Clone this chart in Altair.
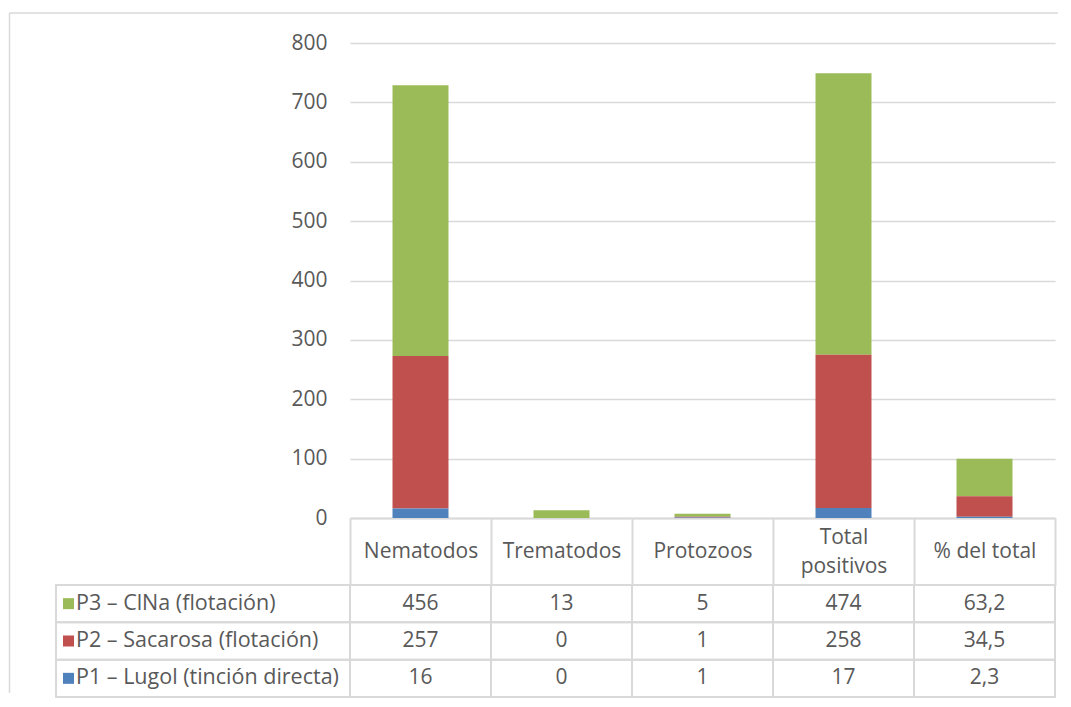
import altair as alt
import pandas as pd

categories = ["Nematodos", "Trematodos", "Protozoos", "Total positivos", "% del total"]
series = ["P3 – ClNa (flotación)", "P2 – Sacarosa (flotación)", "P1 – Lugol (tinción directa)"]
p3_clna = [456, 13, 5, 474, 63.2]
p2_sacarosa = [257, 0, 1, 258, 34.5]
p1_lugol = [16, 0, 1, 17, 2.3]
colors = ["#9BBB59", "#C0504D", "#4F81BD"]

rows = []
for s_idx, (name, vals) in enumerate(zip(series, [p3_clna, p2_sacarosa, p1_lugol])):
    for c, v in zip(categories, vals):
        lab = f"{v:.1f}".replace(".", ",") if c == "% del total" else str(int(v))
        rows.append({"categoria": c, "serie": name, "valor": v, "texto": lab,
                     "orden": 2 - s_idx})
df = pd.DataFrame(rows)

FONT = "Open Sans"
GRAY = "#d9d9d9"
TXT = "#595959"

xscale = alt.Scale(domain=categories, paddingInner=0, paddingOuter=0)
cscale = alt.Scale(domain=series, range=colors)

bars = alt.Chart(df).mark_bar(width=56).encode(
    x=alt.X("categoria:N", scale=xscale, sort=categories, title=None,
            axis=alt.Axis(labelAngle=0, tickBand="extent", tickSize=67, tickColor=GRAY,
                          tickWidth=2, domainColor=GRAY, domainWidth=2, grid=False,
                          labelFont=FONT, labelFontSize=21, labelColor=TXT,
                          labelBaseline="middle",
                          labelPadding={"condition": {"test": "datum.value == 'Total positivos'",
                                                      "value": -48},
                                        "value": -33.5},
                          labelLineHeight=29,
                          labelExpr="datum.value == 'Total positivos' ? ['Total', 'positivos'] : datum.label")),
    y=alt.Y("valor:Q", stack="zero", scale=alt.Scale(domain=[0, 800], nice=False), title=None,
            axis=alt.Axis(values=[0, 100, 200, 300, 400, 500, 600, 700, 800], grid=True,
                          gridColor=GRAY, gridWidth=1.5, domain=False, ticks=False,
                          labelPadding=23, labelFont=FONT, labelFontSize=21, labelColor=TXT)),
    color=alt.Color("serie:N", scale=cscale, legend=None),
    order=alt.Order("orden:Q", sort="ascending"),
)

frame_df = pd.DataFrame({"k": [0]})
frame_top = alt.Chart(frame_df).mark_rule(color=GRAY, strokeWidth=1.5).encode(
    x=alt.value(-340.5), x2=alt.value(708), y=alt.value(-30))
frame_left = alt.Chart(frame_df).mark_rule(color=GRAY, strokeWidth=1.5).encode(
    x=alt.value(-340.5), y=alt.value(-30), y2=alt.value(650))

top = alt.layer(frame_top, frame_left, bars).properties(width=705, height=475)

xs2 = alt.X("categoria:N", scale=xscale, sort=categories, axis=None)
ys2 = alt.Y("serie:N", scale=alt.Scale(domain=series, paddingInner=0, paddingOuter=0),
            sort=series, axis=None)

cells = alt.Chart(df).mark_rect(fillOpacity=0, stroke=GRAY, strokeWidth=2).encode(x=xs2, y=ys2)
vals = alt.Chart(df).mark_text(font=FONT, fontSize=21, color=TXT, baseline="middle").encode(
    x=xs2, y=ys2, text="texto:N")

lab_df = pd.DataFrame({"serie": series})
lab_cells = alt.Chart(lab_df).mark_rect(fillOpacity=0, stroke=GRAY, strokeWidth=2).encode(
    x=alt.value(-294), x2=alt.value(0), y=ys2)
swatch = alt.Chart(lab_df).mark_square(size=121, filled=True, opacity=1).encode(
    x=alt.value(-281.5), y=ys2, color=alt.Color("serie:N", scale=cscale, legend=None))
lab_text = alt.Chart(lab_df).mark_text(font=FONT, fontSize=21.5, color=TXT, align="left",
                                       baseline="middle").encode(
    x=alt.value(-274), y=ys2, text="serie:N")

bottom = alt.layer(cells, vals, lab_cells, swatch, lab_text).properties(width=705, height=112)

chart = alt.vconcat(top, bottom, spacing=67, bounds="flush").properties(
    padding={"left": 0, "top": 3, "right": 0, "bottom": 0},
    background="white",
).configure_view(stroke="transparent")

chart.save("out.html", embed_options={"renderer": "svg", "actions": False})
